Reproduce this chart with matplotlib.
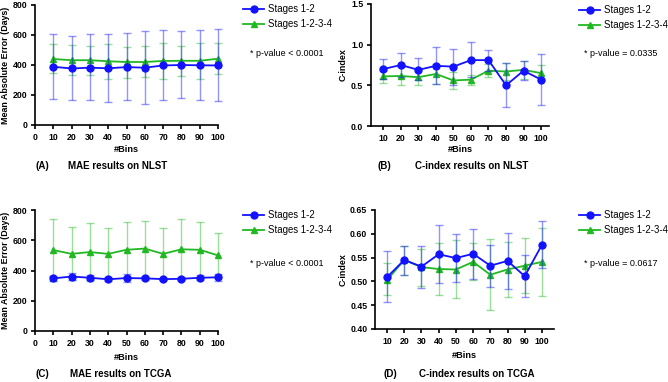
"""
Four-panel figure: MAE and C-index results on NLST and TCGA by number of bins.
"""
import matplotlib.pyplot as plt

plt.rcParams['font.family'] = ['Liberation Sans', 'DejaVu Sans']

bins = [10, 20, 30, 40, 50, 60, 70, 80, 90, 100]

# (A) MAE on NLST
nlst_mae_s12 = [388, 377, 382, 378, 386, 382, 397, 400, 398, 397]
nlst_mae_s12_lo = [174, 169, 167, 156, 165, 143, 169, 178, 169, 160]
nlst_mae_s12_hi = [604, 596, 607, 604, 615, 628, 635, 628, 635, 642]
nlst_mae_s1234 = [440, 432, 432, 425, 420, 420, 427, 428, 428, 442]
nlst_mae_s1234_lo = [345, 335, 335, 310, 315, 320, 310, 330, 310, 340]
nlst_mae_s1234_hi = [540, 535, 530, 540, 520, 525, 545, 525, 545, 550]

# (B) C-index on NLST
nlst_ci_s12 = [0.70, 0.75, 0.69, 0.74, 0.73, 0.81, 0.81, 0.50, 0.68, 0.57]
nlst_ci_s12_lo = [0.58, 0.60, 0.57, 0.52, 0.51, 0.60, 0.68, 0.23, 0.56, 0.255]
nlst_ci_s12_hi = [0.82, 0.90, 0.83, 0.97, 0.945, 1.03, 0.93, 0.78, 0.80, 0.88]
nlst_ci_s1234 = [0.61, 0.615, 0.60, 0.64, 0.56, 0.57, 0.68, 0.67, 0.69, 0.65]
nlst_ci_s1234_lo = [0.53, 0.51, 0.50, 0.52, 0.46, 0.51, 0.60, 0.56, 0.58, 0.56]
nlst_ci_s1234_hi = [0.68, 0.72, 0.70, 0.76, 0.67, 0.63, 0.76, 0.77, 0.80, 0.75]

# (C) MAE on TCGA
tcga_mae_s12 = [348, 360, 352, 342, 350, 348, 343, 345, 352, 355]
tcga_mae_s12_lo = [330, 338, 335, 328, 325, 335, 335, 335, 335, 330]
tcga_mae_s12_hi = [365, 382, 370, 356, 375, 360, 352, 355, 370, 380]
tcga_mae_s1234 = [535, 510, 522, 510, 537, 545, 510, 540, 537, 500]
tcga_mae_s1234_lo = [330, 335, 332, 342, 356, 362, 340, 342, 356, 355]
tcga_mae_s1234_hi = [740, 685, 712, 678, 718, 728, 680, 738, 718, 645]

# (D) C-index on TCGA
tcga_ci_s12 = [0.509, 0.545, 0.531, 0.557, 0.549, 0.558, 0.533, 0.543, 0.511, 0.577]
tcga_ci_s12_lo = [0.456, 0.514, 0.486, 0.496, 0.498, 0.504, 0.489, 0.483, 0.467, 0.528]
tcga_ci_s12_hi = [0.563, 0.575, 0.575, 0.619, 0.600, 0.611, 0.577, 0.602, 0.555, 0.627]
tcga_ci_s1234 = [0.503, 0.545, 0.530, 0.526, 0.525, 0.541, 0.514, 0.525, 0.533, 0.541]
tcga_ci_s1234_lo = [0.471, 0.513, 0.491, 0.472, 0.465, 0.502, 0.439, 0.467, 0.475, 0.469]
tcga_ci_s1234_hi = [0.538, 0.575, 0.569, 0.580, 0.586, 0.581, 0.590, 0.583, 0.592, 0.613]

labels = ["Stages 1-2", "Stages 1-2-3-4"]
pvalues = ["* p-value < 0.0001", "* p-value = 0.0335", "* p-value < 0.0001", "* p-value = 0.0617"]
captions = [("(A)", "MAE results on NLST"), ("(B)", "C-index results on NLST"),
            ("(C)", "MAE results on TCGA"), ("(D)", "C-index results on TCGA")]

BLUE = "#1212ff"
GREEN = "#22b822"

W, H = 668, 382


def px(x, y):
    # pixel coords (from top-left) -> figure fraction
    return x / W, 1 - y / H


def draw_series(ax, y, lo, hi, color, marker, ms):
    yerr = [[v - l for v, l in zip(y, lo)], [h - v for v, h in zip(y, hi)]]
    ax.errorbar(bins, y, yerr=yerr, fmt="none", ecolor=color, alpha=0.45,
                elinewidth=1.0, capsize=3, capthick=1.0, clip_on=False)
    line, = ax.plot(bins, y, color=color, marker=marker, markersize=ms,
                    linewidth=1.3, clip_on=False)
    return line


fig = plt.figure(figsize=(6.68, 3.82), dpi=100)

# axes boxes in pixels: left, top, right, bottom
boxes = [(35, 5, 218, 125), (371, 4, 549, 126), (35, 210, 218, 331), (375, 210, 554, 329)]
panels = [
    (nlst_mae_s12, nlst_mae_s12_lo, nlst_mae_s12_hi, nlst_mae_s1234, nlst_mae_s1234_lo, nlst_mae_s1234_hi),
    (nlst_ci_s12, nlst_ci_s12_lo, nlst_ci_s12_hi, nlst_ci_s1234, nlst_ci_s1234_lo, nlst_ci_s1234_hi),
    (tcga_mae_s12, tcga_mae_s12_lo, tcga_mae_s12_hi, tcga_mae_s1234, tcga_mae_s1234_lo, tcga_mae_s1234_hi),
    (tcga_ci_s12, tcga_ci_s12_lo, tcga_ci_s12_hi, tcga_ci_s1234, tcga_ci_s1234_lo, tcga_ci_s1234_hi),
]
ylims = [(0, 800), (0, 1.5), (0, 800), (0.40, 0.65)]
yticks = [[0, 200, 400, 600, 800], [0.0, 0.5, 1.0, 1.5], [0, 200, 400, 600, 800],
          [0.40, 0.45, 0.50, 0.55, 0.60, 0.65]]
yfmt = ["{:.0f}", "{:.1f}", "{:.0f}", "{:.2f}"]
ylabels = ["Mean Absolute Error (Days)", "C-index", "Mean Absolute Error (Days)", "C-index"]
xlims = [(0, 100), (3, 104.5), (0, 100), (3, 107)]
legend_pos = [(243, 4), (579, 5), (243, 210), (579, 210)]
pval_pos = [(250, 54), (584, 54), (250, 263), (584, 264)]
caption_pos = [(36, 68, 166), (378, 415, 166), (36, 70, 374), (384, 419, 374)]
xlabel_y = [150, 150, 358, 356]
ylabel_x = [6, 343, 6, 343]

for i, (box, data) in enumerate(zip(boxes, panels)):
    l, t, r, b = box
    ax = fig.add_axes([l / W, 1 - b / H, (r - l) / W, (b - t) / H])
    s12, s12_lo, s12_hi, s1234, s1234_lo, s1234_hi = data
    h2 = draw_series(ax, s1234, s1234_lo, s1234_hi, GREEN, "^", 4)
    h1 = draw_series(ax, s12, s12_lo, s12_hi, BLUE, "o", 5)

    ax.set_xlim(*xlims[i])
    ax.set_ylim(*ylims[i])
    if i in (0, 2):
        ax.set_xticks([0] + bins)
    else:
        ax.set_xticks(bins)
    ax.set_yticks(yticks[i])
    ax.set_yticklabels([yfmt[i].format(v) for v in yticks[i]])
    for s in ("top", "right"):
        ax.spines[s].set_visible(False)
    for s in ("left", "bottom"):
        ax.spines[s].set_linewidth(1.2)
    ax.tick_params(direction="out", length=3, width=1.2, labelsize=6.3, pad=2.5)
    for lab in ax.get_xticklabels() + ax.get_yticklabels():
        lab.set_fontweight("bold")

    cx = (l + r) / 2
    fig.text(*px(cx, xlabel_y[i]), "#Bins", ha="center", va="center",
             fontsize=6.6, fontweight="bold")
    fig.text(*px(ylabel_x[i], (t + b) / 2), ylabels[i], ha="center", va="center",
             rotation=90, fontsize=6.4, fontweight="bold")

    lx, ly = legend_pos[i]
    fig.legend([h1, h2], labels, loc="upper left", bbox_to_anchor=px(lx, ly),
               frameon=False, fontsize=6.9, handlelength=2.2, handletextpad=0.4,
               labelspacing=0.55, borderaxespad=0, borderpad=0)
    fig.text(*px(*pval_pos[i]), pvalues[i], ha="left", va="center", fontsize=6.5)

    x1, x2, cy = caption_pos[i]
    fig.text(*px(x1, cy), captions[i][0], ha="left", va="center", fontsize=7, fontweight="bold")
    fig.text(*px(x2, cy), captions[i][1], ha="left", va="center", fontsize=7, fontweight="bold")

fig.savefig("out.png", dpi=100)
